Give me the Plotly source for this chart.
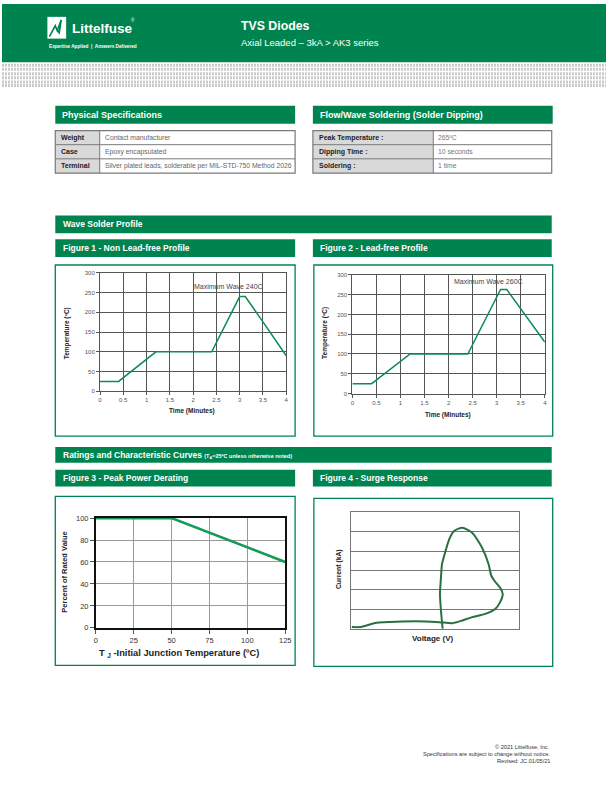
import plotly.graph_objects as go

W, H = 612, 792
GREEN = "#00844f"
LINE_GREEN = "#0b8c56"
DARK_GREEN = "#2b6e40"
FONT = "Liberation Sans, Arial"

# ---------------- data ----------------
fig1_time = [0, 0.4, 1.2, 2.4, 3.0, 3.12, 3.5, 3.75, 4.0]
fig1_temp = [25, 25, 100, 100, 240, 240, 176, 133, 90]
fig2_time = [0, 0.4, 1.2, 2.4, 3.08, 3.21, 4.0]
fig2_temp = [25, 25, 100, 100, 263, 263, 130]
fig3_tj = [0, 50, 125]
fig3_pct = [100, 100, 60]
fig4_v = [0.02, 0.53, 1.5, 3.87, 5.24, 6.03, 6.61, 7.2, 7.98, 8.57, 8.86, 9.02,
          8.86, 8.57, 8.34, 8.18, 7.79, 7.2, 6.61, 6.12, 5.83, 5.5, 5.4, 5.34,
          5.28, 5.34, 5.44]
fig4_i = [0.09, 0.09, 0.31, 0.39, 0.34, 0.29, 0.43, 0.6, 0.77, 1.02, 1.36, 1.79,
          2.13, 2.42, 2.73, 3.32, 4.17, 4.94, 5.2, 5.03, 4.6, 3.66, 3.32, 2.64,
          1.79, 0.94, 0.0]
profile_x_ticks = [0, 0.5, 1, 1.5, 2, 2.5, 3, 3.5, 4]
profile_y_ticks = [0, 50, 100, 150, 200, 250, 300]
derating_x_ticks = [0, 25, 50, 75, 100, 125]
derating_y_ticks = [0, 20, 40, 60, 80, 100]
phys_labels = ["Weight", "Case", "Terminal"]
phys_values = ["Contact manufacturer", "Epoxy encapsulated",
               "Silver plated leads, solderable per MIL-STD-750 Method 2026"]
flow_labels = ["Peak Temperature :", "Dipping Time :", "Soldering :"]
flow_values = ["265ºC", "10 seconds", "1 time"]
footer_lines = ["© 2021 Littelfuse, Inc.",
                "Specifications are subject to change without notice.",
                "Revised: JC.01/05/21"]


def px(x):
    return x / W


def py(y):
    return 1 - y / H


shapes = []
annotations = []


def rect(x0, y0, x1, y1, fill=None, line=None, lw=1):
    shapes.append(dict(type="rect", xref="paper", yref="paper",
                       x0=px(x0), x1=px(x1), y0=py(y1), y1=py(y0),
                       fillcolor=fill if fill else "rgba(0,0,0,0)",
                       line=dict(color=line if line else "rgba(0,0,0,0)", width=lw if line else 0),
                       layer="below"))


def hline(x0, x1, y, color, width, dash=None):
    d = dict(color=color, width=width)
    if dash:
        d["dash"] = dash
    shapes.append(dict(type="line", xref="paper", yref="paper",
                       x0=px(x0), x1=px(x1), y0=py(y), y1=py(y), line=d, layer="below"))


def vline(x, y0, y1, color, width):
    shapes.append(dict(type="line", xref="paper", yref="paper",
                       x0=px(x), x1=px(x), y0=py(y0), y1=py(y1),
                       line=dict(color=color, width=width), layer="below"))


def text(x, y, s, size, color="#000", bold=False, xanchor="left", yanchor="middle",
         angle=0, family=FONT):
    if bold:
        s = "<b>" + s + "</b>"
    annotations.append(dict(xref="paper", yref="paper", x=px(x), y=py(y), text=s,
                            showarrow=False, xanchor=xanchor, yanchor=yanchor,
                            textangle=angle, font=dict(size=size, color=color, family=family)))


# ---------------- header ----------------
rect(0, 0, W, 59, fill=GREEN)
for ry in [62, 66, 70.5, 74.5, 79, 82.5]:
    hline(0, W, ry, "#cbcbcb", 3, dash="2px,1px")

# logo
rect(46, 13, 65, 35, fill="#ffffff")
shapes.append(dict(type="path", xref="paper", yref="paper",
                   path="M {} {} L {} {} L {} {} L {} {} L {} {} L {} {}".format(
                       px(48), py(33), px(54), py(22), px(56), py(27),
                       px(60), py(16), px(58), py(29), px(55), py(25)),
                   line=dict(color=GREEN, width=1.6)))
text(68.5, 25, "Littelfuse", 13.5, "#ffffff", bold=True)
text(129, 16.5, "®", 4.5, "#ffffff")
text(46, 43, "Expertise Applied  |  Answers Delivered", 4.7, "#ffffff", bold=True)

text(240, 22.5, "TVS Diodes", 12.3, "#ffffff", bold=True)
text(240, 39, "Axial Leaded – 3kA > AK3 series", 9.5, "#ffffff")

# ---------------- spec tables ----------------
rect(54, 103, 297, 121, fill=GREEN)
text(59, 112.5, "Physical Specifications", 9, "#ffffff", bold=True)
rect(315, 103, 558, 121, fill=GREEN)
text(320, 112.5, "Flow/Wave Soldering (Solder Dipping)", 9, "#ffffff", bold=True)

row_edges = [128, 142.3, 156.6, 171]


def table(x0, xm, x1, labels, values, vcolor):
    rect(x0, row_edges[0], xm, row_edges[-1], fill="#d9d9d9")
    rect(x0, row_edges[0], x1, row_edges[-1], line="#7a7a7a", lw=1.2)
    for r in row_edges[1:-1]:
        hline(x0, x1, r, "#7a7a7a", 1)
    vline(xm, row_edges[0], row_edges[-1], "#7a7a7a", 1)
    for i in range(len(labels)):
        cy = (row_edges[i] + row_edges[i + 1]) / 2
        text(x0 + 4, cy, labels[i], 7, "#222", bold=True)
        text(xm + 3, cy, values[i], 6.8, vcolor)


table(54, 99, 297, phys_labels, phys_values, "#666")
table(315, 437, 557, flow_labels, flow_values, "#777")

# ---------------- section bars ----------------
rect(54, 214, 557, 232, fill=GREEN)
text(60, 223, "Wave Solder Profile", 8.5, "#ffffff", bold=True)
rect(54, 238, 297, 256, fill=GREEN)
text(60, 247, "Figure 1 - Non Lead-free Profile", 8.5, "#ffffff", bold=True)
rect(315, 238, 557, 256, fill=GREEN)
text(320, 247, "Figure 2 - Lead-free Profile", 8.5, "#ffffff", bold=True)
rect(54, 264, 297, 437, line=GREEN, lw=1.3)
rect(316, 264, 558, 437, line=GREEN, lw=1.3)

rect(54, 448, 557, 464, fill=GREEN)
text(60, 456, "<b>Ratings and Characteristic Curves</b> <span style='font-size:5.5px'><b>(T<sub>A</sub>=25ºC unless otherwise noted)</b></span>",
     8.5, "#ffffff")
rect(54, 471, 297, 488, fill=GREEN)
text(60, 479.5, "Figure 3 - Peak Power Derating", 8.5, "#ffffff", bold=True)
rect(315, 471, 557, 488, fill=GREEN)
text(320, 479.5, "Figure 4 - Surge Response", 8.5, "#ffffff", bold=True)
rect(54, 498, 297, 669, line=GREEN, lw=1.3)
rect(316, 500, 558, 670, line=GREEN, lw=1.3)

# ---------------- traces ----------------
fig = go.Figure()
fig.add_trace(go.Scatter(x=fig1_time, y=fig1_temp, mode="lines", xaxis="x", yaxis="y",
                         line=dict(color=LINE_GREEN, width=1.5), showlegend=False))
fig.add_trace(go.Scatter(x=fig2_time, y=fig2_temp, mode="lines", xaxis="x2", yaxis="y2",
                         line=dict(color=LINE_GREEN, width=1.5), showlegend=False))
fig.add_trace(go.Scatter(x=fig3_tj, y=fig3_pct, mode="lines", xaxis="x3", yaxis="y3",
                         line=dict(color="#169a55", width=2.6), showlegend=False))
fig.add_trace(go.Scatter(x=fig4_v, y=fig4_i, mode="lines", xaxis="x4", yaxis="y4",
                         line=dict(color=DARK_GREEN, width=2, shape="spline", smoothing=0.6),
                         showlegend=False))

tickfont_small = dict(size=6, color="#555", family=FONT)


def profile_axes(xd, yd):
    xa = dict(domain=xd, range=[0, 4], tickvals=profile_x_ticks, showgrid=True,
              gridcolor="#555", gridwidth=1, showline=True, mirror=True, linecolor="#555",
              linewidth=1, zeroline=False, ticks="outside", ticklen=3, tickcolor="#555",
              tickfont=tickfont_small, fixedrange=True)
    ya = dict(domain=yd, range=[0, 300], tickvals=profile_y_ticks, showgrid=True,
              gridcolor="#555", gridwidth=1, showline=True, mirror=True, linecolor="#555",
              linewidth=1, zeroline=False, ticks="outside", ticklen=3, tickcolor="#555",
              tickfont=tickfont_small, fixedrange=True)
    return xa, ya


xa1, ya1 = profile_axes([px(99.3), px(288)], [py(391.7), py(272)])
xa2, ya2 = profile_axes([px(355), px(550)], [py(394), py(274)])
ya1["anchor"] = "x"
xa1["anchor"] = "y"
xa2["anchor"] = "y2"
ya2["anchor"] = "x2"

xa3 = dict(domain=[px(95), px(287)], range=[0, 125], tickvals=derating_x_ticks, anchor="y3",
           showgrid=True, gridcolor="#9a9a9a", gridwidth=1, showline=True, mirror=True,
           linecolor="#111", linewidth=1.5, zeroline=False, ticks="outside", ticklen=4,
           tickcolor="#555", tickfont=dict(size=7.5, color="#333", family=FONT), fixedrange=True)
ya3 = dict(domain=[py(631), py(520)], range=[0, 100], tickvals=derating_y_ticks, anchor="x3",
           showgrid=True, gridcolor="#9a9a9a", gridwidth=1, showline=True, mirror=True,
           linecolor="#111", linewidth=1.5, zeroline=False, ticks="outside", ticklen=4,
           tickcolor="#555", tickfont=dict(size=7.5, color="#333", family=FONT), fixedrange=True)
xa4 = dict(domain=[px(354), px(524)], range=[0, 10], anchor="y4", showgrid=False,
           showticklabels=False, ticks="", showline=True, mirror=True, linecolor="#777",
           linewidth=1, zeroline=False, fixedrange=True)
ya4 = dict(domain=[py(632), py(514)], range=[0, 6], dtick=1, anchor="x4", showgrid=True,
           gridcolor="#777", gridwidth=1, showticklabels=False, ticks="", showline=True,
           mirror=True, linecolor="#777", linewidth=1, zeroline=False, fixedrange=True)

# axis titles & notes
text(193, 412, "Time (Minutes)", 6.5, "#222", bold=True, xanchor="center")
text(66, 333, "Temperature (ºC)", 6.5, "#222", bold=True, xanchor="center", angle=-90)
text(452, 416, "Time (Minutes)", 6.5, "#222", bold=True, xanchor="center")
text(327, 333, "Temperature (ºC)", 6.5, "#222", bold=True, xanchor="center", angle=-90)
annotations.append(dict(xref="x", yref="y", x=2.75, y=266, text="Maximum Wave 240C",
                        showarrow=False, font=dict(size=7, color="#444", family=FONT)))
annotations.append(dict(xref="x2", yref="y2", x=2.83, y=283, text="Maximum Wave 260C",
                        showarrow=False, font=dict(size=7, color="#444", family=FONT)))
text(179, 657, "T <sub>J</sub> -Initial Junction Temperature (ºC)", 9.3, "#222", bold=True,
     xanchor="center")
text(63, 575, "Percent of Rated Value", 7.5, "#222", bold=True, xanchor="center", angle=-90)
text(437, 642, "Voltage (V)", 8, "#222", bold=True, xanchor="center")
text(341, 572, "Current (kA)", 6.8, "#222", bold=True, xanchor="center", angle=-90)

# footer
for i, s in enumerate(footer_lines):
    text(557, 752 + i * 6.6, s, 5.6, "#333", xanchor="right")

fig.update_layout(
    width=W, height=H, margin=dict(l=0, r=0, t=0, b=0),
    paper_bgcolor="#ffffff", plot_bgcolor="#ffffff",
    xaxis=xa1, yaxis=ya1, xaxis2=xa2, yaxis2=ya2,
    xaxis3=xa3, yaxis3=ya3, xaxis4=xa4, yaxis4=ya4,
    shapes=shapes, annotations=annotations, showlegend=False,
)
fig.write_html(
    "out.html", config={"displayModeBar": False},
    post_script=(
        "var d=document.getElementById('{plot_id}');"
        "d.style.display='block';"
        "if(d.parentElement){d.parentElement.style.height='792px';"
        "d.parentElement.style.overflow='hidden';}"
        "document.documentElement.style.cssText='margin:0;padding:0;overflow:hidden;height:792px;width:612px';"
        "document.body.style.cssText='margin:0;padding:0;overflow:hidden;height:792px;width:612px';"
    ),
)
